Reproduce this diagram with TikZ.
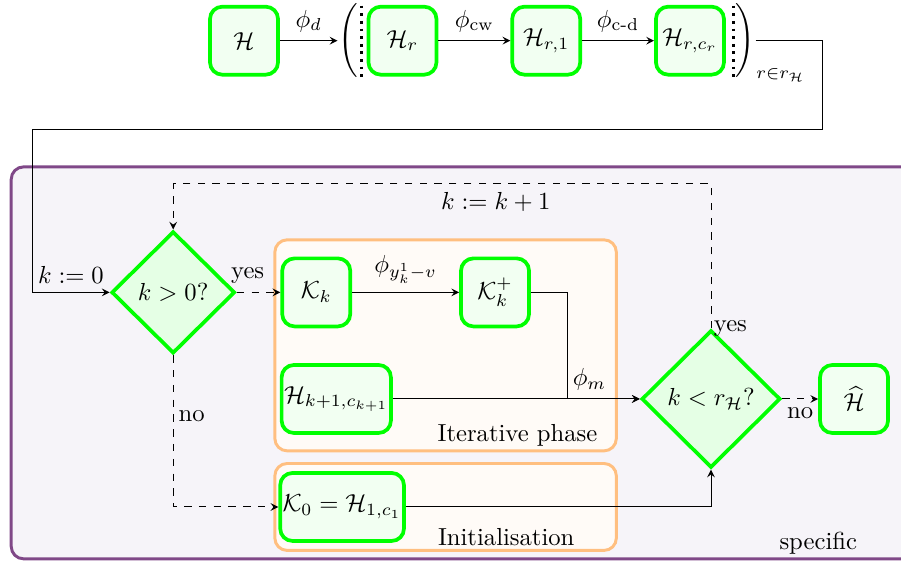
\documentclass[tikz,border=0pt]{standalone}
\usepackage{amssymb}
\usepackage{amsmath}
\usepackage{tikz}
\usepackage{xcolor}
\usetikzlibrary{
    arrows,
    shapes.geometric,
    calc,
    positioning
}
\definecolor{specborder}{RGB}{128,72,136}
\definecolor{specfill}{RGB}{246,244,249}

\begin{document}
\begin{tikzpicture}[
    >=stealth,
    block/.style={draw=green, fill=green!5, line width=1.5pt, rounded corners=5pt,
        minimum width=0.97cm, minimum height=0.97cm, inner xsep=1pt},
    decision/.style={draw=green, fill=green!10, line width=1.5pt, diamond, aspect=1, inner sep=1pt},
    phase/.style={draw=orange!50, fill=orange!3, line width=1.2pt, rounded corners=5pt}
]
                            \useasboundingbox (0, 0) rectangle (12.85, -8.07);
                            % frames
                            \draw[draw=specborder, fill=specfill, line width=1.2pt, rounded corners=5pt] (0.16, -2.38) rectangle (13.2, -7.97);
                            \draw[phase] (3.92, -3.42) rectangle (8.79, -6.43);
                            \draw[phase] (3.92, -6.61) rectangle (8.79, -7.85);
                            \node (spec) at (11.67, -7.75) {specific};
                            \node (iter) at (7.38, -6.21) {Iterative phase};
                            \node (init) at (7.22, -7.66) {Initialisation};
                            % top row
                            \node[block] (h) at (3.48, -0.58) {$\mathcal{H}$};
                            \node[inner sep=0] (lp) at (4.96, -0.58) {$\Bigg($};
                            \node[block] (hr) at (5.74, -0.58) {$\mathcal{H}_r$};
                            \node[block] (hr1) at (7.79, -0.58) {$\mathcal{H}_{r,1}$};
                            \node[block] (hrc) at (9.84, -0.58) {$\mathcal{H}_{r,c_r}$};
                            \node[inner sep=0] (rp) at (10.63, -0.58) {$\Bigg)$};
                            \node (rng) at (11.13, -1.07) {$\scriptstyle r\in r_{\mathcal{H}}$};
                            \draw[dotted, line width=1.1pt] (5.16, -0.08) -- (5.16, -1.1);
                            \draw[dotted, line width=1.1pt] (10.46, -0.08) -- (10.46, -1.1);
                            % specific part
                            \node[decision, minimum width=1.76cm, minimum height=1.74cm] (d1) at (2.47, -4.17) {$k > 0?$};
                            \node[block] (kk) at (4.51, -4.17) {$\mathcal{K}_k$};
                            \node[block] (kp) at (7.06, -4.17) {$\mathcal{K}_k^+$};
                            \node[block, anchor=west] (hk) at (3.99, -5.69) {$\mathcal{H}_{k+1,c_{k+1}}$};
                            \node[block, anchor=west] (k0) at (3.97, -7.23) {$\mathcal{K}_0 = \mathcal{H}_{1,c_1}$};
                            \node[decision, minimum width=1.98cm, minimum height=1.96cm] (d2) at (10.14, -5.69) {$k < r_{\mathcal{H}}?$};
                            \node[block] (hh) at (12.18, -5.69) {$\widehat{\mathcal{H}}$};
                            \coordinate (loop) at (10.14, -2.62);
                            \draw
                            (h) edge[->] node[above] {$\phi_d$} (lp)
                            (hr) edge[->] node[above] {$\phi_{\text{cw}}$} (hr1)
                            (hr1) edge[->] node[above] {$\phi_{\text{c-d}}$} (hrc)
                            (d1.east) edge[->, dashed] node[above, pos=0.25] {yes} (kk)
                            (kk) edge[->] node[above] {$\phi_{y^1_k-v}$} (kp)
                            (hk.east) edge[->] (d2.west)
                            (d2.east) edge[->, dashed] node[below] {no} (hh);
                            \draw[->] (rp.east) -| (11.73, -1.85) -- (0.46, -1.85) |- node[above, pos=0.75] {$k := 0$} (d1.west);
                            \draw[->] (kp.east) -| (8.10, -5.69) -- node[above, pos=0.3] {$\phi_m$} (d2.west);
                            \draw[->] (k0.east) -| (d2.south);
                            \draw[->, dashed] (d2.north) -- node[pos=0.0, right, inner sep=1pt] {yes} (loop) -| node[below, pos=0.2] {$k := k+1$} (d1.north);
                            \draw[->, dashed] (d1.south) |- node[right, pos=0.2, inner sep=2pt] {no} (k0.west);
                        \end{tikzpicture}
\end{document}
